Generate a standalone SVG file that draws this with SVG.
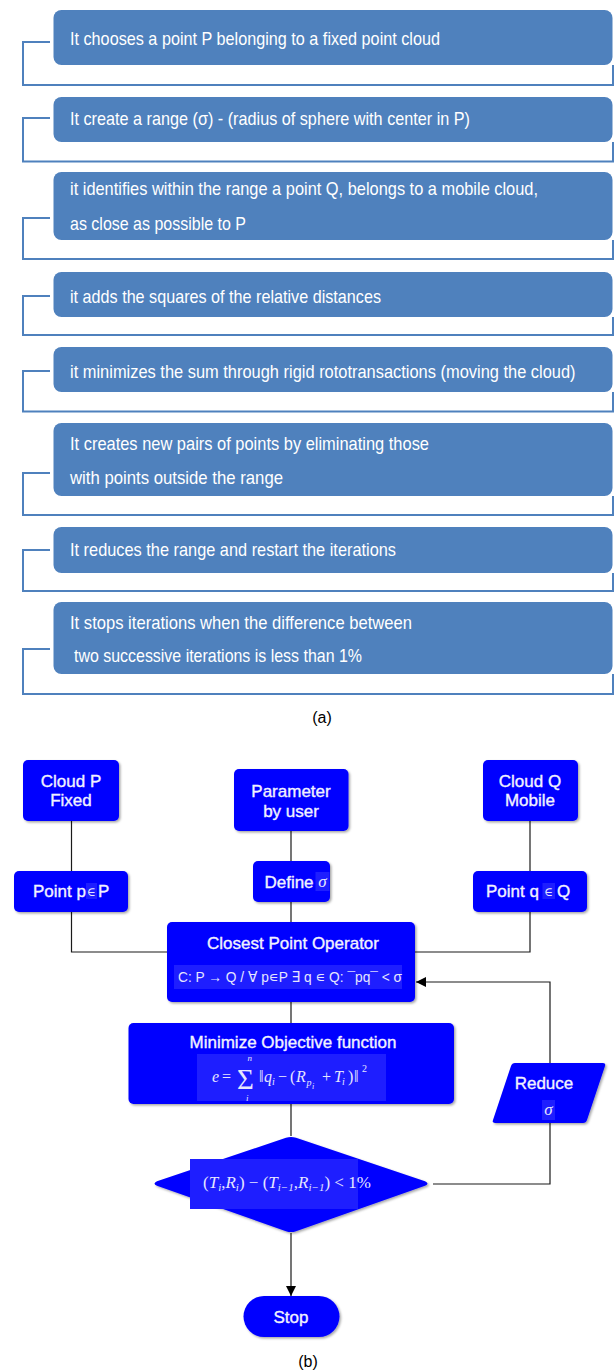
<svg xmlns="http://www.w3.org/2000/svg" width="614" height="1372" viewBox="0 0 614 1372">
<style>
.bx{fill:#4F81BD}
.br{fill:none;stroke:#4F81BD;stroke-width:2}
.ta{font-family:"Liberation Sans",Arial,sans-serif;font-size:19px;fill:#FFFFFF}
.cap{font-family:"Liberation Sans",Arial,sans-serif;font-size:16px;fill:#000;text-anchor:middle}
.nd{fill:#0000FF}
.lb{font-family:"Liberation Sans",Arial,sans-serif;font-size:17px;fill:#F2F2FF;stroke:#F2F2FF;stroke-width:0.35;text-anchor:middle}
.lbs{font-family:"Liberation Sans",Arial,sans-serif;font-size:17px;fill:#F2F2FF;stroke:#F2F2FF;stroke-width:0.35}
.hl{fill:#1E1EFF}
.mt{font-family:"Liberation Serif","DejaVu Serif",serif;fill:#E6E6FF}
.it{font-style:italic}
.cn{fill:none;stroke:#1A1A1A;stroke-width:1.2}
</style>
<defs>
<filter id="sh" x="-10%" y="-10%" width="130%" height="130%">
<feDropShadow dx="1.5" dy="1.5" stdDeviation="1.2" flood-color="#000" flood-opacity="0.35"/>
</filter>
<marker id="ah" viewBox="0 0 10 10" refX="10" refY="5" markerWidth="10" markerHeight="10" markerUnits="userSpaceOnUse" orient="auto">
<path d="M0,0 L10,5 L0,10 Z" fill="#000"/>
</marker>
</defs>

<!-- Part (a) -->
<g id="a1">
<path class="br" d="M50,42 H23 V85 H613 V65"/>
<rect class="bx" x="53.5" y="10" width="559" height="55" rx="8"/>
<text class="ta" x="70" y="44.5" textLength="370" lengthAdjust="spacingAndGlyphs">It chooses  a point  P belonging  to a fixed point  cloud</text>
</g>
<g id="a2">
<path class="br" d="M50,118 H23 V161.5 H613 V142"/>
<rect class="bx" x="53.5" y="97" width="559" height="45" rx="8"/>
<text class="ta" x="70" y="125" textLength="400" lengthAdjust="spacingAndGlyphs">It create a range (σ) - (radius of sphere with center in P)</text>
</g>
<g id="a3">
<path class="br" d="M50,218 H23 V259 H613 V240"/>
<rect class="bx" x="53.5" y="172" width="559" height="68" rx="8"/>
<text class="ta" x="70" y="194.5" textLength="468" lengthAdjust="spacingAndGlyphs">it identifies  within  the range  a point Q, belongs to a mobile cloud,</text>
<text class="ta" x="70" y="229.5" textLength="176" lengthAdjust="spacingAndGlyphs">as close  as possible  to P</text>
</g>
<g id="a4">
<path class="br" d="M50,296 H23 V335 H613 V317"/>
<rect class="bx" x="53.5" y="272" width="559" height="45" rx="8"/>
<text class="ta" x="70" y="303" textLength="311" lengthAdjust="spacingAndGlyphs">it adds  the squares  of the relative  distances</text>
</g>
<g id="a5">
<path class="br" d="M50,371 H23 V411.5 H613 V392"/>
<rect class="bx" x="53.5" y="347" width="559" height="45" rx="8"/>
<text class="ta" transform="translate(70,378) scale(0.8,1)" x="0" y="0" textLength="632" lengthAdjust="spacingAndGlyphs">it minimizes  the sum through  rigid rototransactions  (moving  the cloud)</text>
</g>
<g id="a6">
<path class="br" d="M50,473 H23 V515 H613 V496"/>
<rect class="bx" x="53.5" y="423" width="559" height="73" rx="8"/>
<text class="ta" x="70" y="450" textLength="359" lengthAdjust="spacingAndGlyphs">It creates new pairs of  points  by eliminating  those</text>
<text class="ta" x="70" y="484" textLength="213" lengthAdjust="spacingAndGlyphs">with points  outside  the range</text>
</g>
<g id="a7">
<path class="br" d="M50,550 H23 V591 H613 V573"/>
<rect class="bx" x="53.5" y="527" width="559" height="46" rx="8"/>
<text class="ta" x="70" y="556" textLength="326" lengthAdjust="spacingAndGlyphs">It reduces  the range and restart the iterations</text>
</g>
<g id="a8">
<path class="br" d="M50,649 H23 V694 H613 V674"/>
<rect class="bx" x="53.5" y="602" width="559" height="72" rx="8"/>
<text class="ta" x="70" y="629" textLength="342" lengthAdjust="spacingAndGlyphs">It stops  iterations when  the difference  between</text>
<text class="ta" x="74" y="662" textLength="288" lengthAdjust="spacingAndGlyphs">two successive  iterations is less than 1%</text>
</g>
<text id="cap-a" class="cap" x="322" y="723">(a)</text>

<!-- Part (b) connectors -->
<g id="connectors">
<path class="cn" d="M71.5,821 V871"/>
<path class="cn" d="M71.5,912 V952 H167"/>
<path class="cn" d="M291,831 V861"/>
<path class="cn" d="M291,902 V922"/>
<path class="cn" d="M530,821 V871"/>
<path class="cn" d="M530,912 V952 H415"/>
<path class="cn" d="M291,1002 V1023"/>
<path class="cn" d="M291,1104 V1136"/>
<path class="cn" d="M433,1184 H550 V1123"/>
<path class="cn" d="M550,1063 V982 H416" marker-end="url(#ah)"/>
<path class="cn" d="M291,1233 V1296" marker-end="url(#ah)"/>
<path d="M358,986 q1,-1.5 2,0 t2,0 t2,0 t2,0 t2,0 t2,0 t2,0 t2,0" fill="none" stroke="#D02020" stroke-width="0.8"/>
</g>

<!-- Part (b) nodes -->
<g id="cloudP">
<rect class="nd" x="23" y="760" width="96" height="61" rx="5" filter="url(#sh)"/>
<text class="lb" x="71" y="786.5">Cloud P</text>
<text class="lb" x="71" y="806">Fixed</text>
</g>
<g id="param">
<rect class="nd" x="234" y="769" width="114.5" height="62" rx="5" filter="url(#sh)"/>
<text class="lb" x="291" y="796.5">Parameter</text>
<text class="lb" x="291" y="816.5">by user</text>
</g>
<g id="cloudQ">
<rect class="nd" x="483" y="760" width="95" height="61" rx="5" filter="url(#sh)"/>
<text class="lb" x="530" y="786.5">Cloud Q</text>
<text class="lb" x="530" y="806">Mobile</text>
</g>
<g id="pointP">
<rect class="nd" x="14" y="871" width="114" height="41" rx="5" filter="url(#sh)"/>
<rect class="hl" x="86" y="883" width="11" height="16"/>
<text class="lbs" x="33" y="897">Point p</text>
<text class="mt" x="91.5" y="896" font-size="12" text-anchor="middle">∈</text>
<text class="lbs" x="98" y="897">P</text>
</g>
<g id="define">
<rect class="nd" x="253" y="861" width="77" height="41" rx="5" filter="url(#sh)"/>
<rect class="hl" x="315.5" y="872" width="14" height="19"/>
<text class="lb" x="289" y="887.5">Define</text>
<text class="mt it" x="322.5" y="887" font-size="17" text-anchor="middle">σ</text>
</g>
<g id="pointQ">
<rect class="nd" x="473" y="871" width="114" height="41" rx="5" filter="url(#sh)"/>
<rect class="hl" x="542.5" y="883" width="12.5" height="16"/>
<text class="lbs" x="486" y="897">Point q</text>
<text class="mt" x="548.7" y="896" font-size="12" text-anchor="middle">∈</text>
<text class="lbs" x="557" y="897">Q</text>
</g>
<g id="closest">
<rect class="nd" x="167" y="922" width="248" height="80" rx="5" filter="url(#sh)"/>
<rect class="hl" x="174" y="965" width="228" height="24"/>
<text class="lb" x="293" y="948.5">Closest Point Operator</text>
<text x="178" y="982" font-family="Liberation Sans, DejaVu Sans, sans-serif" font-size="15" fill="#E6E6FF" textLength="224" lengthAdjust="spacingAndGlyphs">C: P → Q / ∀ p∊P ∃ q ∊ Q: ¯pq¯ &lt; σ</text>
</g>
<g id="minimize">
<rect class="nd" x="128.5" y="1023" width="325.5" height="81" rx="5" filter="url(#sh)"/>
<rect class="hl" x="197" y="1054" width="189" height="47"/>
<text class="lb" x="293" y="1047.5">Minimize Objective function</text>
<g class="mt" font-size="16">
<text class="it" x="212" y="1082">e</text>
<text x="222" y="1082">=</text>
<text x="237" y="1089" font-size="29">Σ</text>
<text class="it" x="247.5" y="1061" font-size="9">n</text>
<text class="it" x="246" y="1101" font-size="9">i</text>
<text x="259" y="1082">‖</text>
<text class="it" x="264" y="1082">q</text>
<text class="it" x="272" y="1085" font-size="10">i</text>
<text x="278" y="1082">−</text>
<text x="290" y="1082">(</text>
<text class="it" x="296" y="1082">R</text>
<text class="it" x="306.5" y="1086" font-size="10">p</text>
<text class="it" x="312" y="1089" font-size="8">i</text>
<text x="322" y="1082">+</text>
<text class="it" x="334" y="1082">T</text>
<text class="it" x="342" y="1085" font-size="10">i</text>
<text x="348" y="1082">)</text>
<text x="354" y="1082">‖</text>
<text x="362" y="1072" font-size="10">2</text>
</g>
</g>
<g id="reduce">
<path class="nd" d="M515,1063 H603 Q606,1063 605,1066 L587,1120 Q586,1123 583,1123 H495 Q492,1123 493,1120 L511,1066 Q512,1063 515,1063 Z" filter="url(#sh)"/>
<rect class="hl" x="542" y="1100" width="13" height="20"/>
<text class="lb" x="544" y="1089">Reduce</text>
<text class="mt it" x="548.5" y="1115" font-size="17" text-anchor="middle">σ</text>
</g>
<g id="decision">
<path class="nd" d="M286,1137.8 Q291,1136 296,1137.8 L425,1181.2 Q430,1183.5 425,1185.8 L296,1231.2 Q291,1233 286,1231.2 L157,1185.8 Q152,1183.5 157,1181.2 Z" filter="url(#sh)"/>
<rect class="hl" x="190" y="1159" width="168" height="50"/>
<text class="mt" x="203" y="1188" font-size="17"><tspan>(</tspan><tspan class="it">T</tspan><tspan class="it" font-size="11" dy="3">i</tspan><tspan dy="-3">,</tspan><tspan class="it">R</tspan><tspan class="it" font-size="11" dy="3">i</tspan><tspan dy="-3">) − (</tspan><tspan class="it">T</tspan><tspan class="it" font-size="11" dy="3">i−1</tspan><tspan dy="-3">,</tspan><tspan class="it">R</tspan><tspan class="it" font-size="11" dy="3">i−1</tspan><tspan dy="-3">) &lt; 1%</tspan></text>
</g>
<g id="stop">
<rect class="nd" x="243.5" y="1296" width="96" height="41" rx="20.5" filter="url(#sh)"/>
<text class="lb" x="291" y="1322.5">Stop</text>
</g>
<text id="cap-b" class="cap" x="308" y="1367">(b)</text>
</svg>
